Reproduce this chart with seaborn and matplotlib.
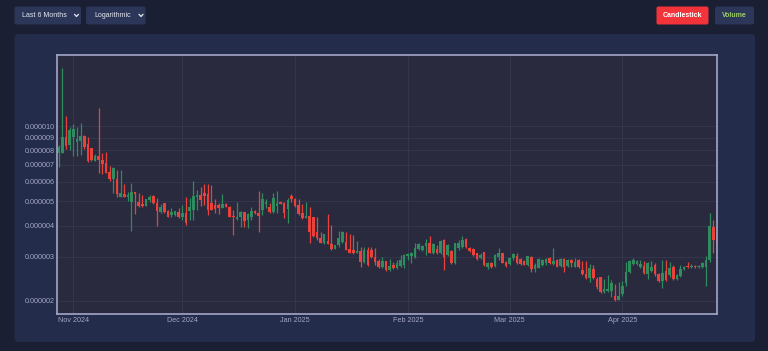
import matplotlib
matplotlib.use("Agg")
import matplotlib.pyplot as plt
import matplotlib.dates as mdates
from matplotlib.lines import Line2D
from matplotlib.patches import FancyBboxPatch
from matplotlib.ticker import FixedLocator, FuncFormatter, NullLocator
from matplotlib.transforms import IdentityTransform
import numpy as np
import pandas as pd
import seaborn as sns

# daily candles, prices in units of 1e-6
start_date = "2024-10-28"
open_u = [
    7.80, 7.80, 9.04, 8.40, 9.04, 8.63, 8.71, 9.13, 8.48, 8.17,
    7.25, 7.59, 7.31, 7.12, 6.55, 6.13, 6.13, 5.20, 5.35, 5.20,
    4.97, 5.45, 4.97, 4.88, 4.79, 5.06, 5.25, 4.92, 4.53, 4.92,
    4.57, 4.41, 4.41, 4.53, 4.33, 4.49, 4.57, 4.61, 5.20, 5.30,
    5.40, 5.35, 4.92, 4.84, 4.84, 4.70, 4.88, 4.75, 4.37, 4.25,
    4.33, 4.53, 4.21, 4.33, 4.57, 4.49, 4.61, 4.88, 4.75, 4.53,
    4.79, 4.97, 4.92, 4.66, 5.25, 5.11, 4.84, 4.49, 4.29, 4.37,
    4.33, 3.77, 3.57, 3.40, 3.47, 3.37, 3.22, 3.34, 3.44, 3.44,
    3.22, 3.19, 3.11, 3.16, 2.86, 3.19, 3.19, 3.00, 2.88, 2.73,
    2.88, 2.65, 2.78, 2.70, 2.76, 2.78, 3.02, 3.02, 3.00, 3.22,
    3.19, 3.31, 3.40, 3.11, 3.22, 3.11, 3.50, 3.05, 3.16, 2.83,
    3.25, 3.28, 3.53, 3.25, 3.22, 3.11, 2.97, 3.13, 2.73, 2.83,
    2.76, 3.00, 3.11, 2.86, 2.81, 2.97, 3.02, 2.94, 2.88, 2.78,
    3.00, 2.68, 2.70, 2.78, 2.83, 2.97, 2.81, 2.91, 2.76, 2.94,
    2.76, 2.91, 2.73, 2.91, 2.65, 2.56, 2.46, 2.68, 2.44, 2.49,
    2.17, 2.19, 2.19, 2.09, 2.01, 2.13, 2.36, 2.61, 2.81, 2.81,
    2.73, 2.76, 2.56, 2.63, 2.78, 2.56, 2.40, 2.63, 2.53, 2.73,
    2.44, 2.51, 2.68, 2.76, 2.73, 2.76, 2.73, 2.73, 2.73, 2.91,
    3.95, 3.53,
]
high_u = [
    8.40, 17.07, 10.98, 9.92, 10.19, 9.92, 10.29, 9.21, 9.04, 8.17,
    7.73, 11.81, 7.80, 7.87, 6.92, 6.86, 6.67, 6.67, 5.87, 5.45,
    5.92, 5.45, 5.40, 5.30, 5.11, 5.30, 5.30, 5.15, 4.88, 4.92,
    4.61, 4.70, 4.57, 4.70, 4.84, 5.20, 5.15, 6.03, 5.55, 5.71,
    5.87, 5.87, 5.81, 5.11, 4.92, 5.35, 4.92, 4.79, 4.61, 4.97,
    4.57, 4.53, 4.49, 4.75, 4.61, 5.50, 5.40, 5.11, 4.92, 5.40,
    5.50, 5.01, 4.97, 5.15, 5.35, 5.15, 5.11, 4.88, 4.97, 4.75,
    4.33, 4.33, 3.77, 3.70, 4.45, 4.02, 3.34, 3.80, 3.80, 3.77,
    3.70, 3.67, 3.47, 3.28, 3.28, 3.28, 3.28, 3.25, 2.94, 3.00,
    2.88, 2.94, 2.86, 2.91, 3.05, 3.08, 3.11, 3.13, 3.40, 3.40,
    3.34, 3.53, 3.64, 3.40, 3.34, 3.50, 3.53, 3.37, 3.19, 3.40,
    3.50, 3.64, 3.57, 3.28, 3.25, 3.11, 3.11, 3.13, 2.86, 2.86,
    3.08, 3.25, 3.11, 2.88, 3.00, 3.11, 3.11, 2.97, 2.91, 3.02,
    3.02, 2.83, 2.97, 2.94, 2.97, 3.00, 3.25, 2.94, 2.97, 2.97,
    2.94, 2.94, 2.97, 2.94, 2.88, 2.88, 2.81, 2.78, 2.49, 2.49,
    2.44, 2.53, 2.42, 2.34, 2.38, 2.40, 2.86, 2.91, 2.97, 2.91,
    2.91, 2.88, 2.86, 2.88, 2.83, 2.58, 2.91, 2.91, 2.86, 2.78,
    2.56, 2.78, 2.76, 2.86, 2.81, 2.78, 2.78, 2.86, 3.02, 4.49,
    4.21, 3.80,
]
low_u = [
    6.86, 7.80, 8.09, 8.02, 7.59, 7.59, 7.66, 8.09, 7.18, 7.25,
    7.25, 6.49, 6.43, 6.49, 6.03, 5.40, 5.20, 5.20, 5.20, 5.01,
    3.80, 4.45, 4.75, 4.75, 4.79, 4.97, 4.88, 3.98, 4.49, 4.49,
    4.33, 4.33, 4.37, 4.29, 4.21, 4.02, 4.21, 4.21, 4.61, 4.79,
    4.84, 4.41, 4.61, 4.49, 4.45, 4.70, 4.75, 4.33, 3.67, 4.21,
    3.95, 3.95, 3.91, 4.21, 4.45, 3.77, 4.41, 4.70, 4.49, 4.49,
    4.49, 4.88, 4.29, 4.10, 4.97, 4.75, 4.41, 4.25, 4.29, 3.40,
    3.60, 3.50, 3.40, 3.37, 3.37, 3.19, 3.22, 3.28, 3.40, 3.19,
    3.11, 3.08, 3.11, 2.73, 2.83, 2.76, 2.97, 2.78, 2.70, 2.70,
    2.63, 2.63, 2.68, 2.68, 2.73, 2.70, 2.91, 2.83, 2.97, 3.19,
    3.16, 3.05, 3.11, 3.08, 3.08, 3.08, 2.65, 3.02, 2.81, 2.81,
    3.19, 3.25, 3.25, 3.14, 3.02, 2.91, 2.94, 2.76, 2.68, 2.70,
    2.73, 2.91, 2.83, 2.73, 2.78, 2.91, 2.81, 2.78, 2.78, 2.76,
    2.61, 2.61, 2.70, 2.76, 2.78, 2.81, 2.78, 2.73, 2.73, 2.61,
    2.73, 2.73, 2.73, 2.70, 2.53, 2.44, 2.38, 2.44, 2.23, 2.15,
    2.15, 2.17, 2.07, 1.99, 2.01, 2.09, 2.29, 2.58, 2.78, 2.78,
    2.70, 2.56, 2.44, 2.61, 2.51, 2.38, 2.25, 2.40, 2.49, 2.42,
    2.42, 2.49, 2.65, 2.70, 2.70, 2.70, 2.70, 2.70, 2.29, 2.86,
    3.11, 3.37,
]
close_u = [
    8.25, 9.04, 8.32, 9.64, 9.73, 8.87, 9.13, 8.25, 7.25, 7.31,
    7.59, 7.31, 7.05, 6.49, 6.13, 6.80, 5.35, 5.40, 5.20, 5.30,
    5.45, 5.35, 4.79, 4.79, 5.11, 5.20, 4.92, 4.57, 4.75, 4.53,
    4.33, 4.53, 4.57, 4.33, 4.49, 4.10, 4.75, 5.25, 5.30, 5.06,
    5.25, 4.61, 4.61, 4.66, 4.70, 4.88, 4.75, 4.33, 4.33, 4.33,
    4.53, 4.17, 4.45, 4.57, 4.49, 4.37, 5.11, 4.97, 4.53, 5.15,
    4.92, 4.88, 4.49, 5.06, 5.11, 4.79, 4.45, 4.29, 4.37, 3.77,
    3.64, 3.57, 3.40, 3.70, 3.37, 3.22, 3.34, 3.57, 3.77, 3.19,
    3.11, 3.11, 3.16, 2.86, 3.19, 2.78, 3.00, 2.86, 2.73, 2.88,
    2.65, 2.76, 2.70, 2.83, 2.91, 3.05, 3.08, 3.11, 3.25, 3.37,
    3.31, 3.40, 3.11, 3.37, 3.11, 3.47, 3.00, 3.34, 2.83, 3.40,
    3.40, 3.50, 3.28, 3.16, 3.05, 2.94, 3.05, 2.78, 2.83, 2.73,
    3.05, 3.11, 2.83, 2.76, 2.97, 3.08, 2.83, 2.81, 2.78, 3.02,
    2.68, 2.78, 2.94, 2.91, 2.94, 2.83, 2.88, 2.73, 2.94, 2.73,
    2.91, 2.83, 2.86, 2.73, 2.56, 2.46, 2.70, 2.46, 2.27, 2.17,
    2.23, 2.23, 2.36, 2.01, 2.09, 2.29, 2.61, 2.88, 2.91, 2.88,
    2.81, 2.58, 2.83, 2.73, 2.56, 2.40, 2.58, 2.42, 2.70, 2.44,
    2.53, 2.68, 2.73, 2.73, 2.76, 2.73, 2.76, 2.83, 2.91, 3.98,
    3.50, 3.40,
]

y_ticks_u = [2, 3, 4, 5, 6, 7, 8, 9, 10]
month_ticks = ["2024-11-01", "2024-12-01", "2025-01-01", "2025-02-01", "2025-03-01", "2025-04-01"]

W, H = 768, 351
BG = "#1b1f33"
PANEL = "#232c4a"
PLOT_BG = "#292a3e"
BOX = "#2b3658"
GRID = "#363850"
SPINE = "#a4a6c8"
TICK = "#a3a6c4"
GREEN = "#2f8c5e"
RED = "#e8423a"


def px_box(fig, x0, y0, x1, y1, color, r):
    # rectangle given in image pixels (origin top-left), kept behind the axes
    p = FancyBboxPatch((x0, H - y1), x1 - x0, y1 - y0,
                       boxstyle=f"round,pad=0,rounding_size={r}",
                       transform=IdentityTransform(), facecolor=color, edgecolor="none",
                       zorder=-2)
    fig.add_artist(p)


def chevron(fig, x, y):
    ln = Line2D([x - 2, x, x + 2], [H - y + 1.2, H - y - 1, H - y + 1.2],
                transform=IdentityTransform(), color="#e6e8f2", linewidth=0.9)
    fig.add_artist(ln)


def main() -> None:
    sns.set_theme(style="dark")
    plt.rcParams["font.family"] = ["Liberation Sans", "DejaVu Sans"]

    fig = plt.figure(figsize=(W / 100, H / 100), dpi=100, facecolor=BG)

    # header controls
    px_box(fig, 14.5, 6.5, 81, 24.5, BOX, 2)
    fig.text(22 / W, 1 - 15.5 / H, "Last 6 Months", color="#e6e8f2", fontsize=5, va="center")
    chevron(fig, 76.5, 15.5)
    px_box(fig, 86, 6.5, 145.5, 24.5, BOX, 2)
    fig.text(94 / W, 1 - 15.5 / H, "Logarithmic", color="#e6e8f2", fontsize=5, va="center")
    chevron(fig, 141, 15.5)
    px_box(fig, 656.5, 6.5, 708.5, 24.5, "#f2343a", 2)
    fig.text(682.5 / W, 1 - 15.5 / H, "Candlestick", color="white", fontsize=5,
             fontweight="bold", ha="center", va="center")
    px_box(fig, 715, 6.5, 754, 24.5, BOX, 2)
    fig.text(734.5 / W, 1 - 15.5 / H, "Volume", color="#9ccc65", fontsize=5,
             fontweight="bold", ha="center", va="center")

    # chart panel
    px_box(fig, 14.5, 34, 755, 342, PANEL, 4)

    ax = fig.add_axes([56.7 / W, 1 - 314 / H, (717 - 56.7) / W, (314 - 55) / H])
    ax.set_zorder(1)
    ax.set_facecolor(PLOT_BG)

    dates = pd.date_range(start_date, periods=len(close_u), freq="D")
    o = np.array(open_u) * 1e-6
    h = np.array(high_u) * 1e-6
    l = np.array(low_u) * 1e-6
    c = np.array(close_u) * 1e-6
    colors = np.where(c >= o, GREEN, RED)

    ax.vlines(dates, l, h, colors=colors, linewidth=0.9, zorder=3)
    body = np.maximum(np.abs(c - o), o * 0.008)
    ax.bar(dates, body, bottom=np.minimum(o, c), width=0.72, color=colors,
           linewidth=0, zorder=4)

    ax.set_yscale("log")
    ax.set_ylim(1.77e-6, 19.25e-6)
    ax.set_xlim(pd.Timestamp("2024-10-27 10:20"), pd.Timestamp("2025-04-27 01:00"))

    ax.yaxis.set_major_locator(FixedLocator([v * 1e-6 for v in y_ticks_u]))
    ax.yaxis.set_major_formatter(FuncFormatter(lambda v, _: f"{v:.6f}"))
    ax.yaxis.set_minor_locator(NullLocator())
    ax.xaxis.set_major_locator(FixedLocator(mdates.date2num(pd.to_datetime(month_ticks))))
    ax.xaxis.set_major_formatter(mdates.DateFormatter("%b %Y"))
    ax.xaxis.set_minor_locator(NullLocator())

    ax.tick_params(axis="both", length=0, labelsize=5.2, colors=TICK)
    ax.tick_params(axis="y", pad=1.5)
    ax.tick_params(axis="x", pad=2)
    ax.grid(True, color=GRID, linewidth=0.6)
    ax.set_axisbelow(True)
    for s in ax.spines.values():
        s.set_visible(True)
        s.set_color(SPINE)
        s.set_linewidth(1.2)
        s.set_zorder(6)

    fig.savefig("out.png", dpi=100, facecolor=BG)
    plt.close(fig)


if __name__ == "__main__":
    main()
